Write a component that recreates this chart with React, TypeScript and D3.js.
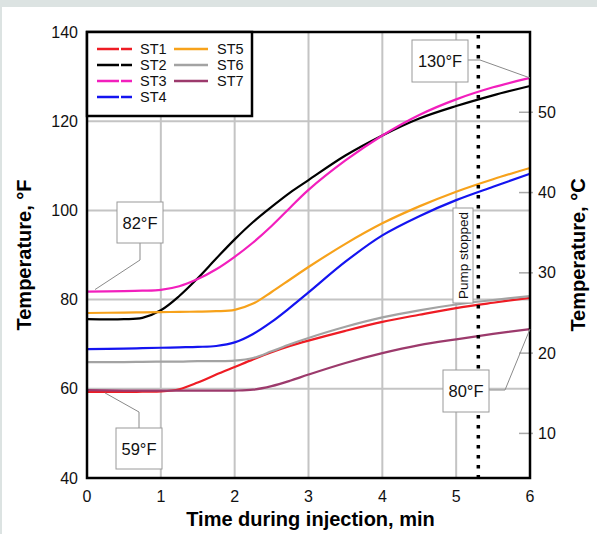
import React from "react";
import * as d3 from "d3";

const times = [0, 0.5, 0.75, 1, 1.25, 1.5, 1.75, 2, 2.25, 2.5, 2.75, 3, 3.5, 4, 4.5, 5, 5.5, 6];
const st1 = [59.3, 59.3, 59.35, 59.4, 59.9, 61.4, 63.2, 64.9, 66.6, 68.2, 69.6, 70.8, 73.0, 75.0, 76.6, 78.1, 79.3, 80.4];
const st2 = [75.6, 75.6, 75.9, 77.6, 80.8, 84.8, 89.2, 93.5, 97.4, 100.8, 104.0, 106.8, 112.3, 116.8, 120.6, 123.4, 125.8, 127.9];
const st3 = [81.8, 81.9, 82.0, 82.2, 83.0, 84.6, 86.8, 89.6, 92.8, 96.5, 100.6, 104.6, 111.2, 116.8, 121.4, 124.9, 127.6, 129.7];
const st4 = [68.9, 69.0, 69.1, 69.2, 69.3, 69.4, 69.6, 70.4, 72.3, 75.0, 78.2, 81.6, 88.5, 94.4, 98.7, 102.3, 105.3, 108.2];
const st5 = [77.0, 77.1, 77.15, 77.2, 77.25, 77.3, 77.4, 77.7, 79.1, 81.7, 84.5, 87.3, 92.5, 97.1, 100.9, 104.2, 107.0, 109.5];
const st6 = [66.0, 66.0, 66.05, 66.1, 66.1, 66.2, 66.2, 66.3, 66.9, 68.4, 70.0, 71.4, 73.9, 76.0, 77.6, 78.9, 79.9, 80.8];
const st7 = [59.7, 59.6, 59.6, 59.6, 59.6, 59.6, 59.6, 59.6, 59.8, 60.6, 61.8, 63.2, 65.8, 68.0, 69.8, 71.1, 72.3, 73.4];

const seriesNames = ["ST1", "ST2", "ST3", "ST4", "ST5", "ST6", "ST7"];
const seriesValues = [st1, st2, st3, st4, st5, st6, st7];
const seriesColors = ["#ee1c24", "#000000", "#f21fbd", "#1414f0", "#f7a21b", "#a3a3a3", "#9c3a6c"];

const xTicks = [0, 1, 2, 3, 4, 5, 6];
const yTicksF = [40, 60, 80, 100, 120, 140];
const yTicksC = [10, 20, 30, 40, 50];
const pumpStopTime = 5.3;

const W = 597;
const H = 534;
const L = 87, R = 530, T = 32, B = 478;

const x = d3.scaleLinear().domain([0, 6]).range([L, R]);
const y = d3.scaleLinear().domain([40, 140]).range([B, T]);
const yC = d3.scaleLinear().domain([(40 - 32) * 5 / 9, (140 - 32) * 5 / 9]).range([B, T]);

const line = d3
  .line<[number, number]>()
  .x((d) => x(d[0]))
  .y((d) => y(d[1]))
  .curve(d3.curveCatmullRom.alpha(0.5));

const font = "'Liberation Sans', Arial, sans-serif";
const LEG_R = 252, LEG_B = 116;

function Callout({ bx, by, bw, bh, label, pts }: { bx: number; by: number; bw: number; bh: number; label: string; pts: [number, number][] }) {
  return (
    <g>
      <polyline points={pts.map((p) => p.join(",")).join(" ")} fill="none" stroke="#8a8a8a" strokeWidth={1} />
      <rect x={bx} y={by} width={bw} height={bh} fill="#fff" stroke="#9a9a9a" strokeWidth={1} />
      <text x={bx + bw / 2} y={by + bh / 2 + 6} textAnchor="middle" fontSize={16.5} fontFamily={font} fill="#111">
        {label}
      </text>
    </g>
  );
}

export default function App() {
  const legendLeft = [0, 1, 2, 3];
  const legendRight = [4, 5, 6];
  return (
    <svg width={W} height={H} style={{ position: "absolute", left: 0, top: 0 }} xmlns="http://www.w3.org/2000/svg">
      <rect x={0} y={0} width={W} height={H} fill="#dce3e2" />
      <rect x={2} y={7} width={W - 2} height={H - 7} fill="#ffffff" />

      {/* gridlines */}
      {[60, 80, 100, 120].map((v) => (
        <line key={"h" + v} x1={L} x2={R} y1={y(v)} y2={y(v)} stroke="#c4c4c4" strokeWidth={2} />
      ))}
      {[1, 2, 3, 4, 5].map((t) => (
        <line key={"v" + t} x1={x(t)} x2={x(t)} y1={x(t) < LEG_R ? LEG_B : T} y2={B} stroke="#c4c4c4" strokeWidth={2} />
      ))}

      {/* right axis C ticks */}
      {yTicksC.map((c) => (
        <line key={"ct" + c} x1={R - 11} x2={R + 3} y1={yC(c)} y2={yC(c)} stroke="#a8a8a8" strokeWidth={1.5} />
      ))}

      {/* series */}
      {seriesValues.map((vals, i) => (
        <path
          key={seriesNames[i]}
          d={line(times.map((t, j) => [t, vals[j]] as [number, number])) || ""}
          fill="none"
          stroke={seriesColors[i]}
          strokeWidth={2.2}
        />
      ))}

      {/* pump stopped */}
      <line x1={x(pumpStopTime)} x2={x(pumpStopTime)} y1={T + 3} y2={B} stroke="#000" strokeWidth={3.5} strokeDasharray="3.5 6.5" />
      <rect x={453} y={208} width={20} height={95} fill="#fff" stroke="#9a9a9a" strokeWidth={1} />
      <text
        transform={`translate(468,255.5) rotate(-90)`}
        textAnchor="middle"
        fontSize={13.5}
        fontFamily={font}
        fill="#111"
      >
        Pump stopped
      </text>

      {/* frame */}
      <rect x={L} y={T} width={R - L} height={B - T} fill="none" stroke="#000" strokeWidth={2.5} />

      {/* legend */}
      <rect x={L} y={T} width={LEG_R - L} height={LEG_B - T} fill="#fff" stroke="#000" strokeWidth={2.5} />
      {legendLeft.map((i, k) => (
        <g key={"ll" + i}>
          <line x1={97} x2={132} y1={49 + k * 16} y2={49 + k * 16} stroke={seriesColors[i]} strokeWidth={2.4} strokeDasharray="22 2 11" />
          <text x={140} y={54 + k * 16} fontSize={14.5} fontFamily={font} fill="#111">
            {seriesNames[i]}
          </text>
        </g>
      ))}
      {legendRight.map((i, k) => (
        <g key={"lr" + i}>
          <line x1={174} x2={208} y1={49 + k * 16} y2={49 + k * 16} stroke={seriesColors[i]} strokeWidth={2.4} />
          <text x={217} y={54 + k * 16} fontSize={14.5} fontFamily={font} fill="#111">
            {seriesNames[i]}
          </text>
        </g>
      ))}

      {/* callouts */}
      <Callout bx={412} by={40} bw={56} bh={42} label="130°F" pts={[[468, 60], [480, 60], [x(6), y(129.7)]]} />
      <Callout bx={117} by={202} bw={46} bh={41} label="82°F" pts={[[140, 243], [140, 260], [95, y(81.8) - 2]]} />
      <Callout bx={116} by={428} bw={46} bh={41} label="59°F" pts={[[139, 428], [139, 412], [105, y(59.3) + 1]]} />
      <Callout bx={443} by={370} bw={46} bh={42} label="80°F" pts={[[489, 390], [505, 390], [x(6), y(73.4)]]} />

      {/* axis tick labels */}
      {yTicksF.map((v) => (
        <text key={"yl" + v} x={78} y={y(v) + 5.5} textAnchor="end" fontSize={16} fontFamily={font} fill="#111">
          {v}
        </text>
      ))}
      {xTicks.map((t) => (
        <text key={"xl" + t} x={x(t)} y={502} textAnchor="middle" fontSize={16} fontFamily={font} fill="#111">
          {t}
        </text>
      ))}
      {yTicksC.map((c) => (
        <text key={"cl" + c} x={538} y={yC(c) + 5.5} textAnchor="start" fontSize={16} fontFamily={font} fill="#111">
          {c}
        </text>
      ))}

      {/* titles */}
      <text x={(L + R) / 2 + 2} y={526} textAnchor="middle" fontSize={20} fontWeight="bold" fontFamily={font} fill="#000">
        Time during injection, min
      </text>
      <text transform="translate(31,255) rotate(-90)" textAnchor="middle" fontSize={20} fontWeight="bold" fontFamily={font} fill="#000">
        Temperature, °F
      </text>
      <text transform="translate(585,255) rotate(-90)" textAnchor="middle" fontSize={20} fontWeight="bold" fontFamily={font} fill="#000">
        Temperature, °C
      </text>
    </svg>
  );
}
